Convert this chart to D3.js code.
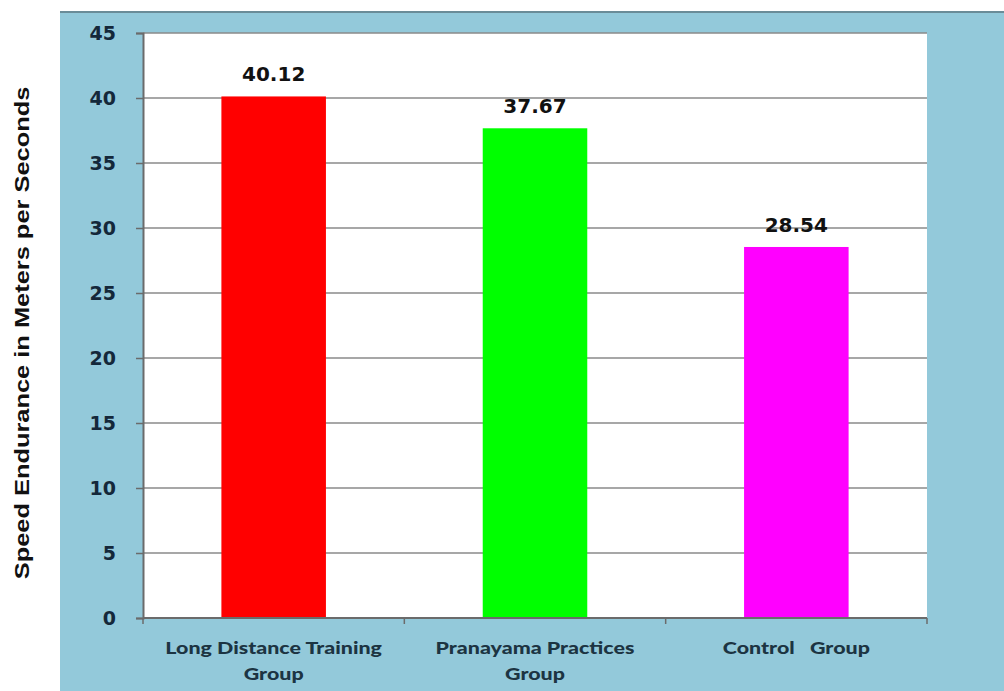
<!DOCTYPE html>
<html>
<head>
<meta charset="utf-8">
<script src="https://cdn.jsdelivr.net/npm/d3@7"></script>
<style>
  html, body { margin: 0; padding: 0; background: #ffffff; }
  svg { display: block; }
</style>
</head>
<body>
<svg id="chart" width="1004" height="691"></svg>
<script>
// Speed endurance by group
const categories = ["Long Distance Training Group", "Pranayama Practices Group", "Control Group"];
const labelLines = [["Long Distance Training", "Group"], ["Pranayama Practices", "Group"], ["Control   Group"]];
const values = [40.12, 37.67, 28.54];
const barColors = ["#ff0000", "#00ff00", "#ff00ff"];
const yTicks = [0, 5, 10, 15, 20, 25, 30, 35, 40, 45];
const yTitle = "Speed Endurance in Meters per Seconds";

const svg = d3.select("#chart");
const W = 1004, H = 691;

// chart frame (light blue panel)
const panel = { left: 60, top: 11, right: W, bottom: H };
const plot = { left: 143, top: 33, right: 927, bottom: 618 };

svg.append("rect")
  .attr("x", panel.left).attr("y", panel.top)
  .attr("width", panel.right - panel.left).attr("height", panel.bottom - panel.top)
  .attr("fill", "#93c9da");
svg.append("line")
  .attr("x1", panel.left).attr("x2", panel.right)
  .attr("y1", panel.top + 1).attr("y2", panel.top + 1)
  .attr("stroke", "#6a8c98").attr("stroke-width", 2);

// plot area
svg.append("rect")
  .attr("x", plot.left).attr("y", plot.top)
  .attr("width", plot.right - plot.left).attr("height", plot.bottom - plot.top)
  .attr("fill", "#ffffff");

const x = d3.scaleBand()
  .domain(categories)
  .range([plot.left, plot.right])
  .paddingInner(0.6)
  .paddingOuter(0.3);

const y = d3.scaleLinear()
  .domain([0, 45])
  .range([plot.bottom, plot.top]);

// horizontal gridlines
svg.append("g")
  .selectAll("line")
  .data(yTicks.filter(d => d > 0))
  .join("line")
  .attr("x1", plot.left).attr("x2", plot.right)
  .attr("y1", d => y(d)).attr("y2", d => y(d))
  .attr("stroke", "#8a8a8a").attr("stroke-width", 1.5);

// bars
svg.append("g")
  .selectAll("rect")
  .data(values)
  .join("rect")
  .attr("x", (d, i) => x(categories[i]))
  .attr("y", d => y(d))
  .attr("width", x.bandwidth())
  .attr("height", d => y(0) - y(d))
  .attr("fill", (d, i) => barColors[i]);

// value labels
svg.append("g")
  .selectAll("text")
  .data(values)
  .join("text")
  .attr("x", (d, i) => x(categories[i]) + x.bandwidth() / 2)
  .attr("y", d => y(d) - 15)
  .attr("text-anchor", "middle")
  .attr("font-family", "DejaVu Sans, sans-serif")
  .attr("font-weight", "bold")
  .attr("font-size", 20)
  .attr("fill", "#111111")
  .text(d => d.toFixed(2));

// y axis
const yAxis = d3.axisLeft(y)
  .tickValues(yTicks)
  .tickSize(7)
  .tickPadding(20)
  .tickFormat(d3.format("d"));
const gy = svg.append("g")
  .attr("transform", `translate(${plot.left},0)`)
  .call(yAxis);
gy.select(".domain").attr("stroke", "#6b6b6b").attr("stroke-width", 2);
gy.selectAll(".tick line").attr("stroke", "#6b6b6b").attr("stroke-width", 1.5);
gy.selectAll(".tick text")
  .attr("font-family", "DejaVu Sans, sans-serif")
  .attr("font-weight", "bold")
  .attr("font-size", 19)
  .attr("fill", "#14283a");

// x axis baseline with ticks at category boundaries
svg.append("line")
  .attr("x1", plot.left).attr("x2", plot.right)
  .attr("y1", plot.bottom).attr("y2", plot.bottom)
  .attr("stroke", "#6b6b6b").attr("stroke-width", 2);
const step = x.step();
const bounds = d3.range(categories.length + 1).map(i => plot.left + i * step);
svg.append("g")
  .selectAll("line")
  .data(bounds)
  .join("line")
  .attr("x1", d => d).attr("x2", d => d)
  .attr("y1", plot.bottom).attr("y2", plot.bottom + 6)
  .attr("stroke", "#6b6b6b").attr("stroke-width", 1.5);

// category labels (wide, heavy lettering)
const catG = svg.append("g");
categories.forEach((c, i) => {
  const cx = x(c) + x.bandwidth() / 2;
  const t = catG.append("text")
    .attr("transform", `translate(${cx},654) scale(1.26,1)`)
    .attr("text-anchor", "middle")
    .attr("font-family", "Lato, sans-serif")
    .attr("font-weight", "900")
    .attr("font-size", 17)
    .attr("fill", "#1c3442")
    .style("white-space", "pre");
  labelLines[i].forEach((line, j) => {
    t.append("tspan")
      .attr("x", 0)
      .attr("dy", j === 0 ? 0 : 26)
      .style("white-space", "pre")
      .text(line);
  });
});

// y axis title
svg.append("text")
  .attr("transform", `translate(29, 333) rotate(-90) scale(1.27,1)`)
  .attr("text-anchor", "middle")
  .attr("font-family", "Liberation Sans, Arial, sans-serif")
  .attr("font-weight", "bold")
  .attr("font-size", 20)
  .attr("fill", "#111111")
  .text(yTitle);
</script>
</body>
</html>
